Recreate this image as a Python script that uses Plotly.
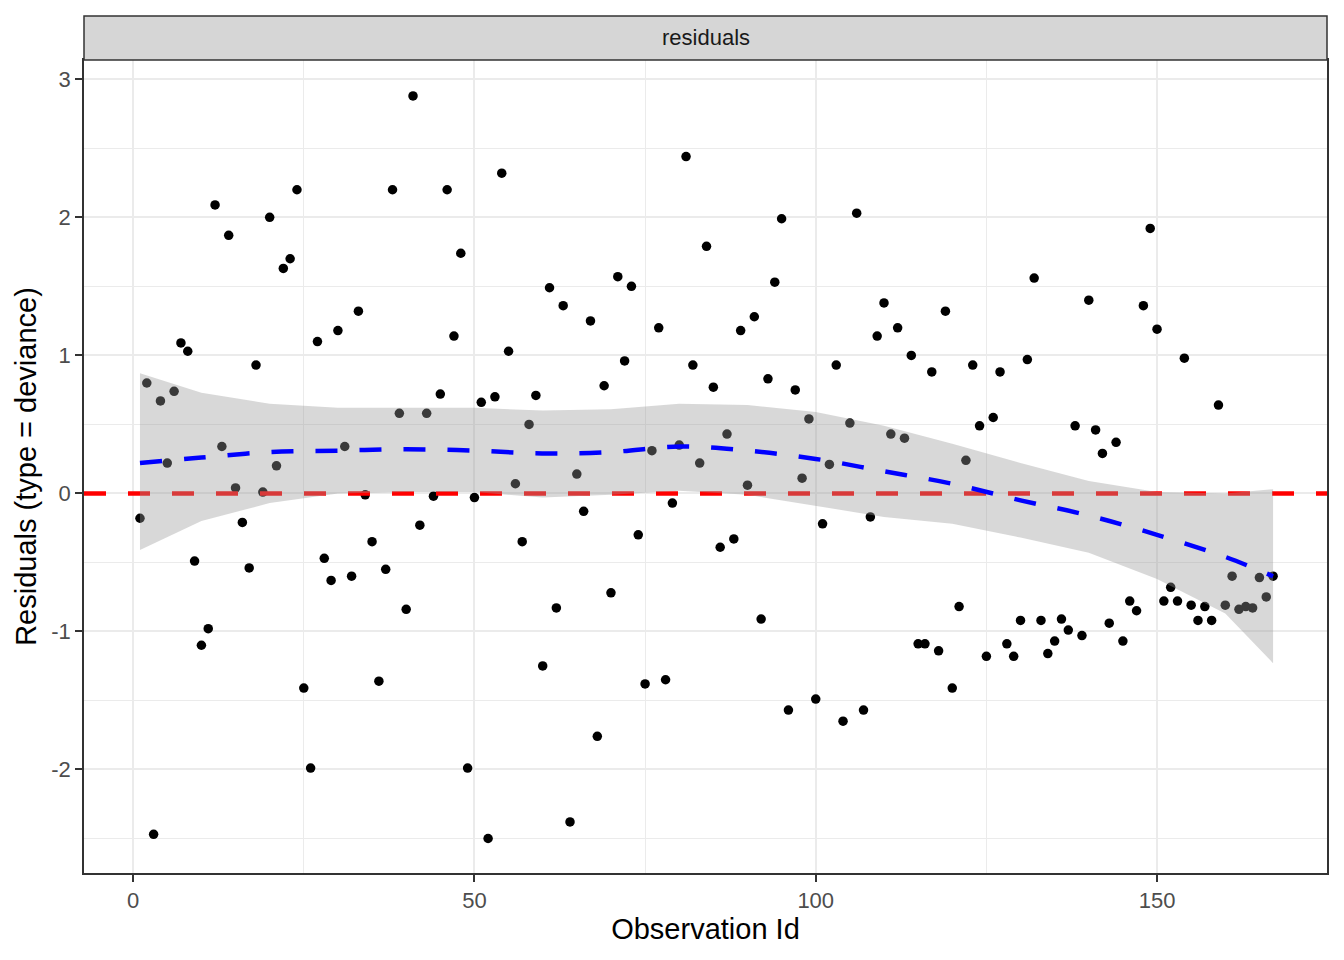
import plotly.graph_objects as go

# observation residuals (deviance)
obs_id = list(range(1, 168))
resid = [
    -0.18, 0.80, -2.47, 0.67, 0.22, 0.74, 1.09, 1.03, -0.49, -1.10,
    -0.98, 2.09, 0.34, 1.87, 0.04, -0.21, -0.54, 0.93, 0.01, 2.00,
    0.20, 1.63, 1.70, 2.20, -1.41, -1.99, 1.10, -0.47, -0.63, 1.18,
    0.34, -0.60, 1.32, -0.01, -0.35, -1.36, -0.55, 2.20, 0.58, -0.84,
    2.88, -0.23, 0.58, -0.02, 0.72, 2.20, 1.14, 1.74, -1.99, -0.03,
    0.66, -2.50, 0.70, 2.32, 1.03, 0.07, -0.35, 0.50, 0.71, -1.25,
    1.49, -0.83, 1.36, -2.38, 0.14, -0.13, 1.25, -1.76, 0.78, -0.72,
    1.57, 0.96, 1.50, -0.30, -1.38, 0.31, 1.20, -1.35, -0.07, 0.35,
    2.44, 0.93, 0.22, 1.79, 0.77, -0.39, 0.43, -0.33, 1.18, 0.06,
    1.28, -0.91, 0.83, 1.53, 1.99, -1.57, 0.75, 0.11, 0.54, -1.49,
    -0.22, 0.21, 0.93, -1.65, 0.51, 2.03, -1.57, -0.17, 1.14, 1.38,
    0.43, 1.20, 0.40, 1.00, -1.09, -1.09, 0.88, -1.14, 1.32, -1.41,
    -0.82, 0.24, 0.93, 0.49, -1.18, 0.55, 0.88, -1.09, -1.18, -0.92,
    0.97, 1.56, -0.92, -1.16, -1.07, -0.91, -0.99, 0.49, -1.03, 1.40,
    0.46, 0.29, -0.94, 0.37, -1.07, -0.78, -0.85, 1.36, 1.92, 1.19,
    -0.78, -0.68, -0.78, 0.98, -0.81, -0.92, -0.82, -0.92, 0.64, -0.81,
    -0.60, -0.84, -0.82, -0.83, -0.61, -0.75, -0.60,
]

# loess smooth and its confidence band
smooth_x = [1, 10, 20, 30, 40, 50, 60, 70, 80, 90, 100, 110, 120, 130, 140, 150, 160, 167]
smooth_fit = [0.22, 0.26, 0.30, 0.31, 0.32, 0.31, 0.29, 0.30, 0.34, 0.31,
              0.25, 0.16, 0.07, -0.05, -0.16, -0.30, -0.46, -0.60]
smooth_hi = [0.87, 0.73, 0.65, 0.62, 0.62, 0.62, 0.60, 0.61, 0.65, 0.64,
             0.59, 0.49, 0.36, 0.22, 0.09, 0.01, 0.00, 0.03]
smooth_lo = [-0.41, -0.20, -0.07, 0.00, 0.01, 0.01, -0.03, -0.01, 0.02, -0.01,
             -0.09, -0.17, -0.22, -0.32, -0.43, -0.62, -0.87, -1.23]

ref_y = 0
x_range = [-7.2, 174.9]
y_range = [-2.75, 3.14]
x_ticks = [0, 50, 100, 150]
y_ticks = [-2, -1, 0, 1, 2, 3]
y_labels = ["-2", "-1", "0", "1", "2", "3"]
facet_label = "residuals"

FONT = "Liberation Sans, Arial, Helvetica, sans-serif"

fig = go.Figure()

fig.add_trace(go.Scatter(
    x=obs_id, y=resid, mode="markers",
    marker=dict(color="black", size=9.5),
    showlegend=False,
))

# reference line at zero, drawn under the band
fig.add_trace(go.Scatter(
    x=x_range, y=[ref_y, ref_y], mode="lines",
    line=dict(color="#FF0000", width=4.5, dash="22px,22px"),
    hoverinfo="skip", showlegend=False,
))

# confidence band
fig.add_trace(go.Scatter(
    x=smooth_x + smooth_x[::-1], y=smooth_hi + smooth_lo[::-1],
    fill="toself", fillcolor="rgba(153,153,153,0.38)",
    line=dict(width=0), mode="lines", hoverinfo="skip", showlegend=False,
))
fig.add_trace(go.Scatter(
    x=smooth_x, y=smooth_fit, mode="lines", line_shape="spline",
    line=dict(color="#0000FF", width=4.5, dash="22px,22px"),
    showlegend=False,
))

# facet strip on top
strip_h = 44 / 813
fig.add_shape(type="rect", xref="paper", yref="paper",
              x0=0, x1=1, y0=1, y1=1 + strip_h,
              fillcolor="#D6D6D6", line=dict(color="#333333", width=1.5))
fig.add_annotation(text=facet_label, xref="paper", yref="paper",
                   x=0.5, y=1 + strip_h / 2, yanchor="middle", showarrow=False,
                   font=dict(size=22, color="#1A1A1A", family=FONT))

# page body adds an 8px margin, so the figure is a bit smaller than the window
fig.update_layout(
    width=1336, height=952,
    margin=dict(l=76, r=17, t=52, b=87),
    plot_bgcolor="white", paper_bgcolor="white",
    font=dict(family=FONT),
    showlegend=False,
)
fig.update_xaxes(
    range=x_range, tickvals=x_ticks,
    ticks="outside", ticklen=7, tickcolor="#333333", tickwidth=2,
    tickfont=dict(size=22, color="#4D4D4D"),
    showgrid=True, gridcolor="#EBEBEB", gridwidth=2.2,
    minor=dict(dtick=25, tick0=0, showgrid=True, gridcolor="#EBEBEB", gridwidth=1.1),
    showline=True, linecolor="#333333", linewidth=1.5, mirror=True,
    zeroline=False,
    title=dict(text="Observation Id", font=dict(size=29, color="black"), standoff=6),
)
fig.update_yaxes(
    range=y_range, tickvals=y_ticks, ticktext=y_labels,
    ticks="outside", ticklen=7, tickcolor="#333333", tickwidth=2,
    tickfont=dict(size=22, color="#4D4D4D"),
    showgrid=True, gridcolor="#EBEBEB", gridwidth=2.2,
    minor=dict(dtick=0.5, tick0=0, showgrid=True, gridcolor="#EBEBEB", gridwidth=1.1),
    showline=True, linecolor="#333333", linewidth=1.5, mirror=True,
    zeroline=False,
    title=dict(text="Residuals (type = deviance)", font=dict(size=29, color="black"), standoff=6),
)

fig.write_html("out.html")
